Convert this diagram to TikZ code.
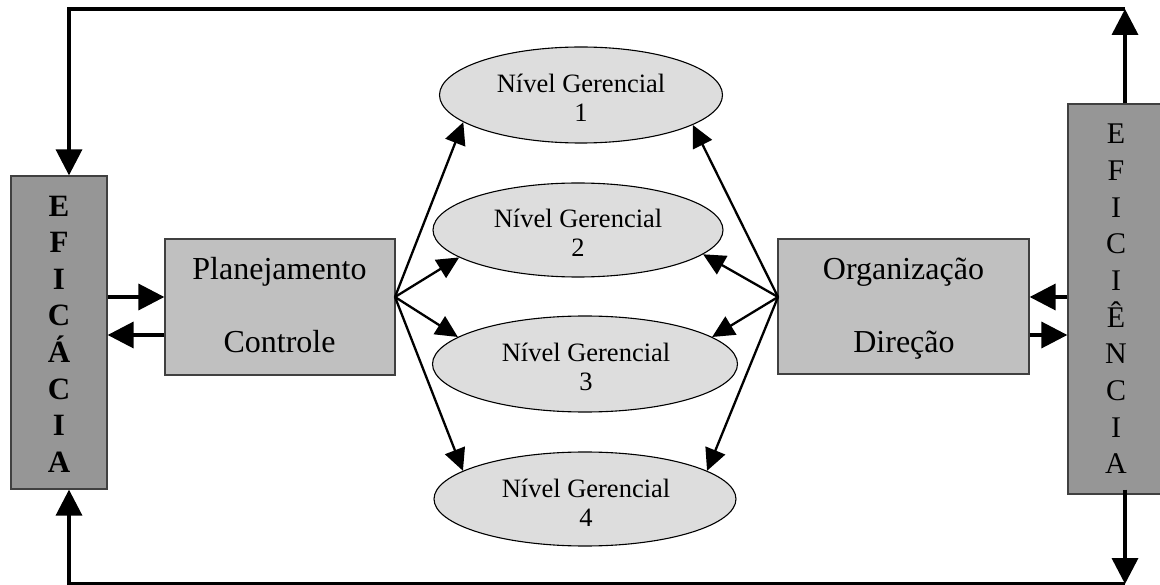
\documentclass[tikz,border=0pt]{standalone}
\usepackage{fontspec}
\setmainfont{Liberation Serif}
\usetikzlibrary{arrows.meta,shapes.geometric}
\definecolor{darkbox}{HTML}{969696}
\definecolor{midbox}{HTML}{C0C0C0}
\definecolor{lightell}{HTML}{DDDDDD}
\definecolor{edgegray}{HTML}{404040}
\tikzset{
  sidebox/.style={draw=edgegray,line width=1.3pt,fill=darkbox,rectangle,inner sep=0pt},
  mainbox/.style={draw=edgegray,line width=1.3pt,fill=midbox,rectangle,inner sep=0pt},
  level/.style={draw=black,line width=1.1pt,fill=lightell,ellipse,inner sep=0pt},
  boxtext/.style={anchor=base,inner sep=0pt,font=\fontsize{32}{38}\selectfont},
  elltext/.style={anchor=base,inner sep=0pt,font=\fontsize{26.5}{29}\selectfont},
  thinarrow/.style={line width=2.3pt,-{Triangle[length=22pt,width=21pt]}},
  thickarrow/.style={line width=3.6pt,-{Triangle[length=26pt,width=26pt]}}
}
\begin{document}
\begin{tikzpicture}[x=1pt,y=-1pt]
\useasboundingbox (0,0) rectangle (1160,585);
% side boxes
\node[sidebox,minimum width=96pt,minimum height=313pt] (L) at (59,332.5) {};
\node[sidebox,minimum width=100pt,minimum height=390pt] (R) at (1118,299) {};
\node[align=center,inner sep=0pt,font=\fontsize{31}{36.6}\selectfont\bfseries] (Ltext) at (59,334) {E\\F\\I\\C\\Á\\C\\I\\A};
\node[align=center,inner sep=0pt,font=\fontsize{30}{36.7}\selectfont] (Rtext) at (1116,299) {E\\F\\I\\C\\I\\Ê\\N\\C\\I\\A};
% main boxes
\node[mainbox,minimum width=230pt,minimum height=136pt] (P) at (280,307) {};
\node[mainbox,minimum width=251pt,minimum height=135pt] (O) at (903.5,306.5) {};
\node[boxtext] (p1) at (279.5,280) {Planejamento};
\node[boxtext] (p2) at (279.5,353) {Controle};
\node[boxtext] (o1) at (903.5,280) {Organização};
\node[boxtext] (o2) at (904,353) {Direção};
% ellipses
\node[level,minimum width=283pt,minimum height=96pt] (e1) at (581,95) {};
\node[level,minimum width=290pt,minimum height=94pt] (e2) at (578,230) {};
\node[level,minimum width=305pt,minimum height=96pt] (e3) at (585,364) {};
\node[level,minimum width=302pt,minimum height=94pt] (e4) at (585,499) {};
\node[elltext] (t1a) at (581,93) {Nível Gerencial};
\node[elltext] (t1b) at (581,122) {1};
\node[elltext] (t2a) at (578,228) {Nível Gerencial};
\node[elltext] (t2b) at (578,257) {2};
\node[elltext] (t3a) at (586,362) {Nível Gerencial};
\node[elltext] (t3b) at (586,391) {3};
\node[elltext] (t4a) at (586,497) {Nível Gerencial};
\node[elltext] (t4b) at (586,526) {4};
% connection points
\coordinate (pout) at (395,297);
\coordinate (oout) at (778,297);
\coordinate (y1) at (0,297);
\coordinate (y2) at (0,335);
\coordinate (tl) at (69,9);
\coordinate (tr) at (1125,9);
\coordinate (bl) at (69,584);
\coordinate (br) at (1125,584);
% fan arrows
\draw[thinarrow] (pout) -- (e1.193);
\draw[thinarrow] (pout) -- (e2.193);
\draw[thinarrow] (pout) -- (e3.168);
\draw[thinarrow] (pout) -- (e4.167);
\draw[thinarrow] (oout) -- (e1.345);
\draw[thinarrow] (oout) -- (e2.349);
\draw[thinarrow] (oout) -- (e3.12);
\draw[thinarrow] (oout) -- (e4.13);
% thick arrows between boxes
\draw[thickarrow] (L.east |- y1) -- (P.west |- y1);
\draw[thickarrow] (P.west |- y2) -- (L.east |- y2);
\draw[thickarrow] (R.west |- y1) -- (O.east |- y1);
\draw[thickarrow] (O.east |- y2) -- (R.west |- y2);
% frame
\draw[thickarrow] (tr |- R.north) -- (tr);
\draw[thickarrow] (tr) -- (tl) -- (tl |- L.north);
\draw[thickarrow] ([yshift=5pt]br |- R.south) -- (br);
\draw[thickarrow] (br) -- (bl) -- (bl |- L.south);
\end{tikzpicture}
\end{document}
